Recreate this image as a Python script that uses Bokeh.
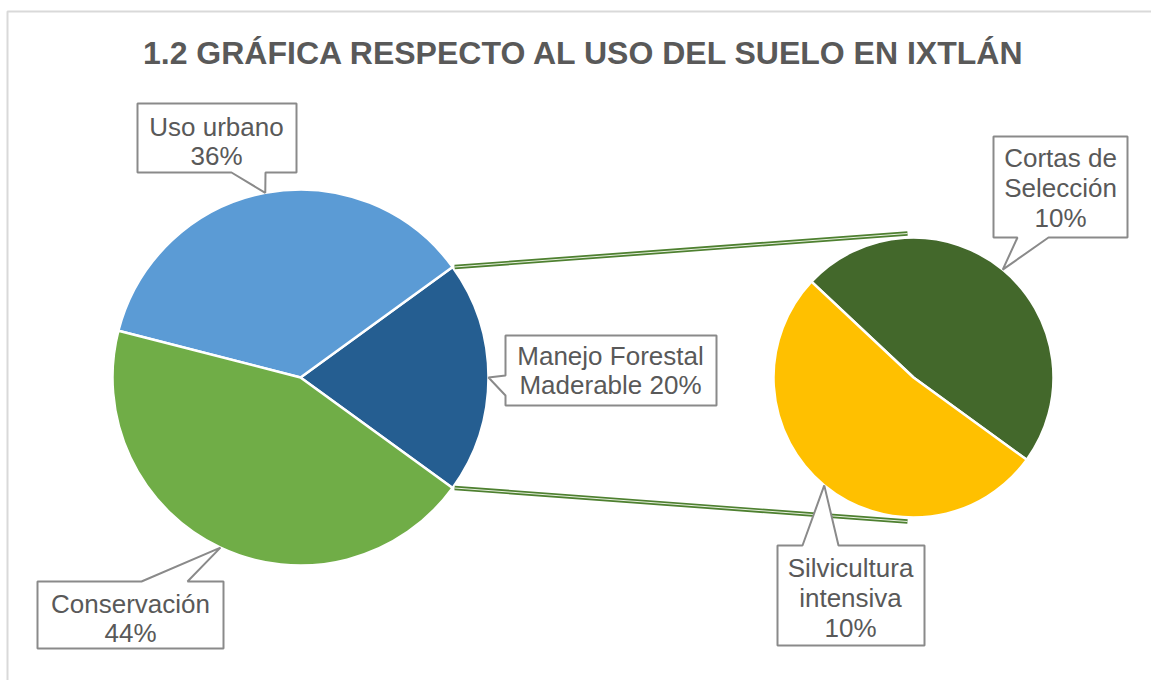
import math
from bokeh.plotting import figure
from bokeh.models import Range1d, ColumnDataSource
from bokeh.core.properties import value
from bokeh.embed import file_html
from bokeh.resources import INLINE

W, H = 1151, 680

# ---------------- data ----------------
title = "1.2 GRÁFICA RESPECTO AL USO DEL SUELO EN IXTLÁN"
main_names = ["Manejo Forestal Maderable", "Uso urbano", "Conservación"]
main_values = [20, 36, 44]            # first slice = combined slice of the secondary pie
main_colors = ["#255E91", "#5B9BD5", "#70AD47"]
sec_names = ["Cortas de Selección", "Silvicultura intensiva"]
sec_values = [9.6, 10.4]
sec_colors = ["#43682B", "#FFC000"]

main_label_lines = [["Manejo Forestal", "Maderable {p}%"], ["Uso urbano", "{p}%"], ["Conservación", "{p}%"]]
sec_label_lines = [["Cortas de", "Selección", "{p}%"], ["Silvicultura", "intensiva", "{p}%"]]

# ---------------- layout (image pixel coords, y down) ----------------
C1 = (300, 377); R1 = 188
C2 = (913, 377); R2 = 140
TXT = "#595959"
BORDER = "#8A8A8A"
FONT = "Liberation Sans"

def fy(y):
    return H - y

total = sum(main_values)
start1 = -math.pi * main_values[0] / total  # combined slice centred on the right

p = figure(width=W, height=H, x_range=Range1d(0, W), y_range=Range1d(0, H),
           output_backend="svg", toolbar_location=None, min_border=0,
           x_axis_type=None, y_axis_type=None, outline_line_color=None)
p.grid.visible = False
p.background_fill_color = "white"
p.border_fill_color = "white"

# chart frame
p.line(x=[7, 7, W + 5], y=[fy(H + 5), fy(11), fy(11)], line_color="#D9D9D9", line_width=2)

# main pie
a = start1
s1, e1, mids1 = [], [], []
for v in main_values:
    da = 2 * math.pi * v / total
    s1.append(a); e1.append(a + da); mids1.append(a + da / 2)
    a += da
src1 = ColumnDataSource(dict(x=[C1[0]] * 3, y=[fy(C1[1])] * 3, s=s1, e=e1, c=main_colors))
p.wedge(x="x", y="y", radius=R1, start_angle="s", end_angle="e", fill_color="c",
        line_color="white", line_width=2.5, source=src1)

# secondary pie
sec_total = sum(sec_values)
a = start1
s2, e2, mids2 = [], [], []
for v in sec_values:
    da = 2 * math.pi * v / sec_total
    s2.append(a); e2.append(a + da); mids2.append(a + da / 2)
    a += da
src2 = ColumnDataSource(dict(x=[C2[0]] * 2, y=[fy(C2[1])] * 2, s=s2, e=e2, c=sec_colors))
p.wedge(x="x", y="y", radius=R2, start_angle="s", end_angle="e", fill_color="c",
        line_color="white", line_width=2.5, source=src2)

# connector lines
for ang, sgn in [(e1[0], 1), (s1[0], -1)]:
    x0 = C1[0] + R1 * math.cos(ang) + 2
    y0 = fy(C1[1]) + R1 * math.sin(ang)
    x1 = C2[0] - 6
    y1 = fy(C2[1]) + sgn * (R2 + 4)
    p.line(x=[x0, x1], y=[y0, y1], line_color="#4E8030", line_width=4.5)
    p.line(x=[x0, x1], y=[y0, y1], line_color="#E8F0E0", line_width=1)

# callouts: box (l, t, r, b) + pointer base on a side
def tip(center, r, ang):
    return (center[0] + r * math.cos(ang), center[1] - r * math.sin(ang))

callouts = [
    dict(tip=tip(C1, R1, mids1[0]), box=(505, 335, 716, 405), side="left", base=(375, 395),
         text=(610, [355, 384]), lines=main_label_lines[0], pct=round(100 * main_values[0] / total)),
    dict(tip=tip(C1, R1, mids1[1]), box=(137, 103, 296, 172), side="bottom", base=(231, 265),
         text=(216, [126, 155]), lines=main_label_lines[1], pct=round(100 * main_values[1] / total)),
    dict(tip=tip(C1, R1, mids1[2]), box=(37, 581, 223, 648), side="top", base=(141, 187),
         text=(130, [603, 632]), lines=main_label_lines[2], pct=round(100 * main_values[2] / total)),
    dict(tip=tip(C2, R2, mids2[0]), box=(993, 136, 1127, 237), side="bottom", base=(1017, 1048),
         text=(1060, [157, 187, 217]), lines=sec_label_lines[0],
         pct=round(100 * sec_values[0] / total)),
    dict(tip=tip(C2, R2, mids2[1]), box=(777, 545, 924, 645), side="top", base=(802, 838),
         text=(850, [567, 597, 627]), lines=sec_label_lines[1],
         pct=round(100 * sec_values[1] / total)),
]

xs_all, ys_all = [], []
tx, ty, tt = [], [], []
for c in callouts:
    l, t, r, b = c["box"]
    tpx, tpy = c["tip"]
    b0, b1 = c["base"]
    if c["side"] == "bottom":
        pts = [(l, t), (r, t), (r, b), (b1, b), (tpx, tpy), (b0, b), (l, b)]
    elif c["side"] == "top":
        pts = [(l, t), (b0, t), (tpx, tpy), (b1, t), (r, t), (r, b), (l, b)]
    else:  # left
        pts = [(l, t), (r, t), (r, b), (l, b), (l, b1), (tpx, tpy), (l, b0)]
    xs_all.append([q[0] for q in pts])
    ys_all.append([fy(q[1]) for q in pts])
    cx, cys = c["text"]
    for line, yy in zip(c["lines"], cys):
        tx.append(cx); ty.append(fy(yy)); tt.append(line.format(p=c["pct"]))

p.patches(xs=xs_all, ys=ys_all, fill_color="white", line_color=BORDER, line_width=2)
p.text(x=tx, y=ty, text=tt, text_align="center", text_baseline="middle",
       text_font=value(FONT), text_font_size="26px", text_color=TXT)

# title
p.text(x=[584], y=[fy(52)], text=[title], text_align="center", text_baseline="middle",
       text_font=value(FONT), text_font_size="32px", text_font_style="bold", text_color=TXT)

open("out.html", "w").write(file_html(p, INLINE))
